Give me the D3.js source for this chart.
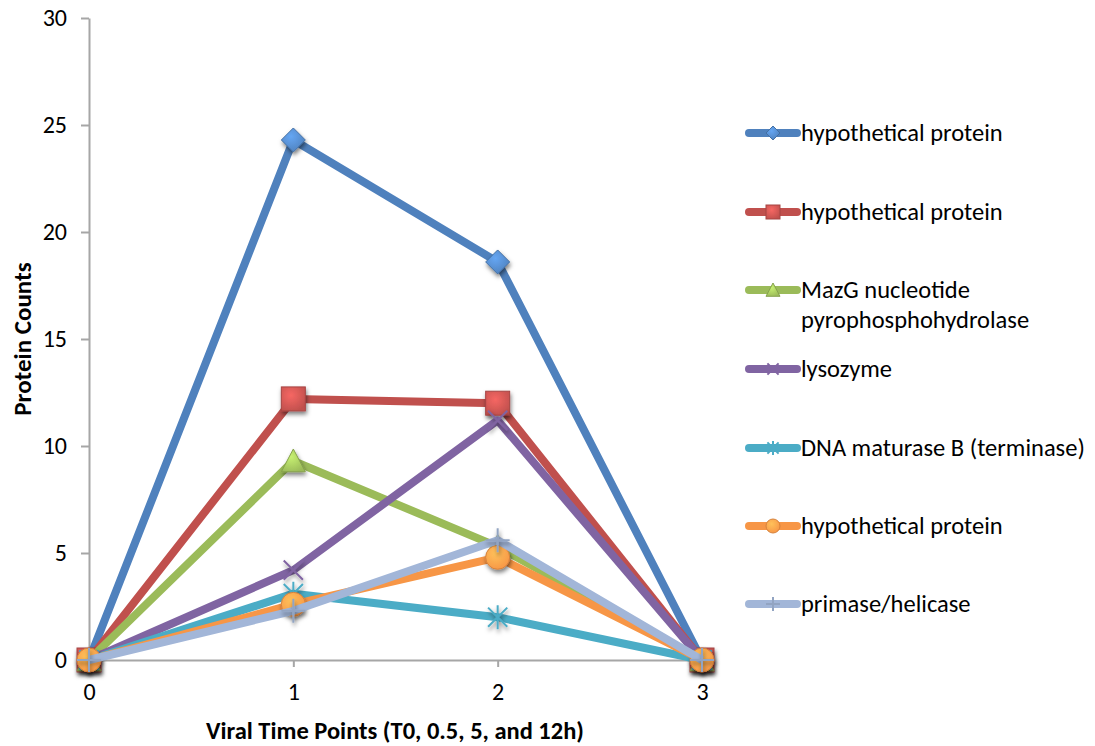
<!DOCTYPE html>
<html>
<head>
<meta charset="utf-8">
<script src="https://cdn.jsdelivr.net/npm/d3@7"></script>
<style>
  body{margin:0;background:#fff;}
  svg text{font-family:Carlito,Calibri,Lato,"Open Sans",sans-serif;fill:#000;}
</style>
</head>
<body>
<svg id="chart" width="1095" height="746"></svg>
<script>
// time points on the x axis
var timePoints = [0, 1, 2, 3];
var yTicks = [0, 5, 10, 15, 20, 25, 30];

var seriesNames = ["hypothetical protein", "hypothetical protein", "MazG nucleotide|pyrophosphohydrolase",
  "lysozyme", "DNA maturase B (terminase)", "hypothetical protein", "primase/helicase"];
var seriesColors = ["#4f81bd", "#c0504d", "#9bbb59", "#8064a2", "#4bacc6", "#f79646", "#a2b6d8"];
var seriesMarkers = ["diamond", "square", "triangle", "x", "asterisk", "circle", "plus"];

var hyp1 = [0, 24.3, 18.6, 0];
var hyp2 = [0, 12.2, 12.0, 0];
var mazG = [0, 9.3, 5.3, 0];
var lysozyme = [0, 4.2, 11.2, 0];
var maturase = [0, 3.1, 2.0, 0];
var hyp3 = [0, 2.6, 4.8, 0];
var primase = [0, 2.3, 5.6, 0];
var seriesValues = [hyp1, hyp2, mazG, lysozyme, maturase, hyp3, primase];

var svg = d3.select("#chart");
var axisColor = "#a6a6a6";

var x = d3.scaleLinear().domain([0, 3]).range([89, 702]);
var y = d3.scaleLinear().domain([0, 30]).range([660, 18]);

var defs = svg.append("defs");
var shadow = defs.append("filter").attr("id", "shadow")
  .attr("x", "-50%").attr("y", "-50%").attr("width", "200%").attr("height", "200%");
shadow.append("feDropShadow").attr("dx", 1).attr("dy", 3).attr("stdDeviation", 2.2)
  .attr("flood-color", "#000").attr("flood-opacity", 0.5);

seriesColors.forEach(function(c, i) {
  var g = defs.append("radialGradient").attr("id", "grad" + i)
    .attr("cx", "40%").attr("cy", "35%").attr("r", "70%");
  g.append("stop").attr("offset", "0%").attr("stop-color", d3.color(c).brighter(0.7));
  g.append("stop").attr("offset", "100%").attr("stop-color", c);
});

// axes
var yAxis = svg.append("g").attr("transform", "translate(89,0)")
  .call(d3.axisLeft(y).tickValues(yTicks).tickSize(8).tickPadding(14).tickSizeOuter(0));
var xAxis = svg.append("g").attr("transform", "translate(0,660)")
  .call(d3.axisBottom(x).tickValues(timePoints).tickSize(7).tickPadding(16).tickSizeOuter(0).tickFormat(d3.format("d")));
[yAxis, xAxis].forEach(function(a) {
  a.select(".domain").attr("stroke", axisColor).attr("stroke-width", 2);
  a.selectAll(".tick line").attr("stroke", axisColor).attr("stroke-width", 2);
  a.selectAll(".tick text").style("font-size", "24px").attr("fill", "#000");
});

svg.append("text").attr("x", 395).attr("y", 739).attr("text-anchor", "middle")
  .style("font-size", "24.5px").style("font-weight", "bold").text("Viral Time Points (T0, 0.5, 5, and 12h)");
svg.append("text").attr("transform", "translate(31,339) rotate(-90)").attr("text-anchor", "middle")
  .style("font-size", "25px").style("font-weight", "bold").text("Protein Counts");

function drawMarker(g, type, s, i) {
  var c = seriesColors[i], dark = d3.color(c).darker(0.4), fill = "url(#grad" + i + ")";
  if (type == "diamond") {
    g.append("path").attr("d", "M0," + (-s) + "L" + s + ",0L0," + s + "L" + (-s) + ",0Z")
      .attr("fill", fill).attr("stroke", dark).attr("stroke-width", 1);
  } else if (type == "square") {
    g.append("rect").attr("x", -s).attr("y", -s).attr("width", s * 2).attr("height", s * 2)
      .attr("fill", fill).attr("stroke", dark).attr("stroke-width", 1);
  } else if (type == "triangle") {
    g.append("path").attr("d", "M0," + (-s) + "L" + s + "," + (s * 0.9) + "L" + (-s) + "," + (s * 0.9) + "Z")
      .attr("fill", fill).attr("stroke", dark).attr("stroke-width", 1);
  } else if (type == "circle") {
    g.append("circle").attr("r", s).attr("fill", fill).attr("stroke", dark).attr("stroke-width", 1);
  } else if (type == "x") {
    g.append("path").attr("d", "M" + (-s * 0.8) + "," + (-s * 0.8) + "L" + (s * 0.8) + "," + (s * 0.8) +
      "M" + (s * 0.8) + "," + (-s * 0.8) + "L" + (-s * 0.8) + "," + (s * 0.8))
      .attr("stroke", c).attr("stroke-width", 2).attr("fill", "none");
  } else if (type == "asterisk") {
    g.append("path").attr("d", "M" + (-s * 0.8) + "," + (-s * 0.8) + "L" + (s * 0.8) + "," + (s * 0.8) +
      "M" + (s * 0.8) + "," + (-s * 0.8) + "L" + (-s * 0.8) + "," + (s * 0.8) + "M0," + (-s) + "L0," + s)
      .attr("stroke", c).attr("stroke-width", 2).attr("fill", "none");
  } else if (type == "plus") {
    g.append("path").attr("d", "M" + (-s) + ",0L" + s + ",0M0," + (-s) + "L0," + s)
      .attr("stroke", d3.color(c).darker(0.3)).attr("stroke-width", 2).attr("fill", "none");
  }
}

var line = d3.line().x(function(d, k) { return x(timePoints[k]); }).y(function(d) { return y(d); });

seriesValues.forEach(function(vals, i) {
  var g = svg.append("g");
  g.append("path").datum(vals).attr("d", line).attr("fill", "none")
    .attr("stroke", seriesColors[i]).attr("stroke-width", 8).attr("stroke-linejoin", "round");
  vals.forEach(function(v, k) {
    var m = g.append("g").attr("transform", "translate(" + x(timePoints[k]) + "," + y(v) + ")")
      .attr("filter", "url(#shadow)");
    drawMarker(m, seriesMarkers[i], 12, i);
  });
});

// legend
var legendY = [133, 212, 290, 369, 448, 526, 604];
seriesNames.forEach(function(name, i) {
  var g = svg.append("g").attr("transform", "translate(0," + legendY[i] + ")");
  g.append("line").attr("x1", 749).attr("x2", 797).attr("y1", 0).attr("y2", 0)
    .attr("stroke", seriesColors[i]).attr("stroke-width", 8).attr("stroke-linecap", "round");
  var m = g.append("g").attr("transform", "translate(773,0)");
  drawMarker(m, seriesMarkers[i], 7, i);
  var t = g.append("text").attr("x", 801).attr("y", 8).style("font-size", "24.5px");
  name.split("|").forEach(function(part, k) {
    t.append("tspan").attr("x", 801).attr("dy", k == 0 ? 0 : 30).text(part);
  });
});
</script>
</body>
</html>
